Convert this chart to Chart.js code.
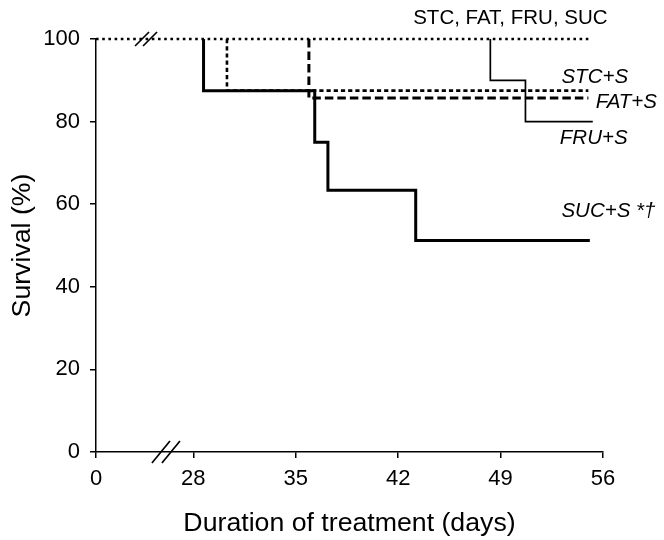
<!DOCTYPE html>
<html>
<head>
<meta charset="utf-8">
<script src="https://cdn.jsdelivr.net/npm/chart.js@4.4.1/dist/chart.umd.min.js"></script>
<style>
  html, body { margin: 0; padding: 0; background: #ffffff; }
  canvas { display: block; }
</style>
</head>
<body>
<canvas id="c" width="664" height="540"></canvas>
<script>
// ---- Data ----
const xTickDays   = [0, 28, 35, 42, 49, 56];
const xTickLabels = ['0', '28', '35', '42', '49', '56'];
const yTickValues = [0, 20, 40, 60, 80, 100];

// Controls (STC, FAT, FRU, SUC): no deaths
const controlDays = [0, 55];
const controlSurv = [100, 100];
// STC+S
const stcSDays = [30.3, 30.3, 55];
const stcSSurv = [100, 87.5, 87.5];
// FAT+S
const fatSDays = [35.9, 35.9, 55];
const fatSSurv = [100, 85.7, 85.7];
// FRU+S
const fruSDays = [48.3, 48.3, 50.7, 55.3];
const fruSSurv = [100, 90, 80, 80];
// SUC+S
const sucSDays = [28.7, 28.7, 36.3, 37.2, 43.2, 55.1];
const sucSSurv = [100, 87.5, 75, 63.4, 51.2, 51.2];

// ---- Broken x-axis: days 0..28 compressed into a short span ----
const AXIS_ZERO = 21.35;
function toAxis(day) {
  return day < 28 ? AXIS_ZERO + day * (28 - AXIS_ZERO) / 28 : day;
}
function pts(days, surv) {
  return days.map((d, i) => ({ x: toAxis(d), y: surv[i] }));
}

const FONT = '"Liberation Sans", Arial, Helvetica, sans-serif';

const datasets = [
  { label: 'STC, FAT, FRU, SUC', data: pts(controlDays, controlSurv),
    borderColor: '#000', borderWidth: 2.6, borderDash: [2.6, 3.6], stepped: 'before' },
  { label: 'FRU+S', data: pts(fruSDays, fruSSurv),
    borderColor: '#000', borderWidth: 1.7, stepped: 'before' },
  { label: 'SUC+S', data: pts(sucSDays, sucSSurv),
    borderColor: '#000', borderWidth: 3, stepped: 'before' },
  { label: 'FAT+S', data: pts(fatSDays, fatSSurv),
    borderColor: '#000', borderWidth: 3, borderDash: [8.5, 4], stepped: 'before' },
  { label: 'STC+S', data: pts(stcSDays, stcSSurv),
    borderColor: '#000', borderWidth: 2.6, borderDash: [4.2, 3], stepped: 'before' }
];
datasets.forEach(d => { d.clip = false; });

// Curve labels: text, anchor day (axis units), baseline survival value, alignment, style
const curveLabels = [
  { text: 'STC, FAT, FRU, SUC', x: 49.67, y: 103.6, align: 'center', italic: false },
  { text: 'STC+S', x: 53.16, y: 89.3, align: 'left', italic: true },
  { text: 'FAT+S', x: 55.5, y: 83.2, align: 'left', italic: true },
  { text: 'FRU+S', x: 53.05, y: 74.5, align: 'left', italic: true },
  { text: 'SUC+S *\u2020', x: 53.16, y: 56.8, align: 'left', italic: true }
];

const decorPlugin = {
  id: 'decor',
  afterDraw(chart) {
    const ctx = chart.ctx;
    const xs = chart.scales.x, ys = chart.scales.y;
    ctx.save();
    ctx.fillStyle = '#000';
    ctx.textBaseline = 'alphabetic';
    curveLabels.forEach(l => {
      ctx.font = (l.italic ? 'italic ' : '') + '20.5px ' + FONT;
      ctx.textAlign = l.align;
      ctx.fillText(l.text, xs.getPixelForValue(l.x), ys.getPixelForValue(l.y));
    });
    // axis break marks
    ctx.strokeStyle = '#000';
    ctx.lineWidth = 1.7;
    const bx = xs.getPixelForValue(26.13), by = ys.getPixelForValue(0);
    [-5, 5].forEach(o => {
      ctx.beginPath();
      ctx.moveTo(bx + o - 9, by + 11);
      ctx.lineTo(bx + o + 9, by - 11);
      ctx.stroke();
    });
    const tx = xs.getPixelForValue(24.77), ty = ys.getPixelForValue(100);
    [-4, 4].forEach(o => {
      ctx.beginPath();
      ctx.moveTo(tx + o - 7, ty + 7);
      ctx.lineTo(tx + o + 7, ty - 7);
      ctx.stroke();
    });
    ctx.restore();
  }
};

new Chart(document.getElementById('c').getContext('2d'), {
  type: 'line',
  data: { datasets },
  plugins: [decorPlugin],
  options: {
    responsive: false,
    animation: false,
    layout: { padding: { left: 0, right: 61, top: 39, bottom: 0 } },
    plugins: { legend: { display: false }, tooltip: { enabled: false } },
    elements: { point: { radius: 0 }, line: { tension: 0, borderCapStyle: 'butt' } },
    scales: {
      x: {
        type: 'linear',
        min: AXIS_ZERO,
        max: 56,
        afterBuildTicks: s => { s.ticks = xTickDays.map(d => ({ value: toAxis(d) })); },
        afterFit: s => { s.height = 88; },
        ticks: {
          autoSkip: false, maxRotation: 0, color: '#000', padding: 8,
          font: { family: FONT, size: 22 },
          callback: (v, i) => xTickLabels[i]
        },
        grid: { drawOnChartArea: false, drawTicks: true, tickLength: 6, color: '#000', lineWidth: 1.5 },
        border: { display: true, color: '#000', width: 1.5 },
        title: { display: true, text: 'Duration of treatment (days)', color: '#000',
                 font: { family: FONT, size: 26.7 }, padding: { top: 8, bottom: 0 } }
      },
      y: {
        min: 0,
        max: 100,
        afterBuildTicks: s => { s.ticks = yTickValues.map(v => ({ value: v })); },
        afterFit: s => { s.width = 96; },
        ticks: { color: '#000', padding: 10, font: { family: FONT, size: 22 } },
        grid: { drawOnChartArea: false, drawTicks: true, tickLength: 6, color: '#000', lineWidth: 1.5 },
        border: { display: true, color: '#000', width: 1.5 },
        title: { display: true, text: 'Survival (%)', color: '#000',
                 font: { family: FONT, size: 26.7 }, padding: { top: 7, bottom: 0 } }
      }
    }
  }
});
</script>
</body>
</html>
